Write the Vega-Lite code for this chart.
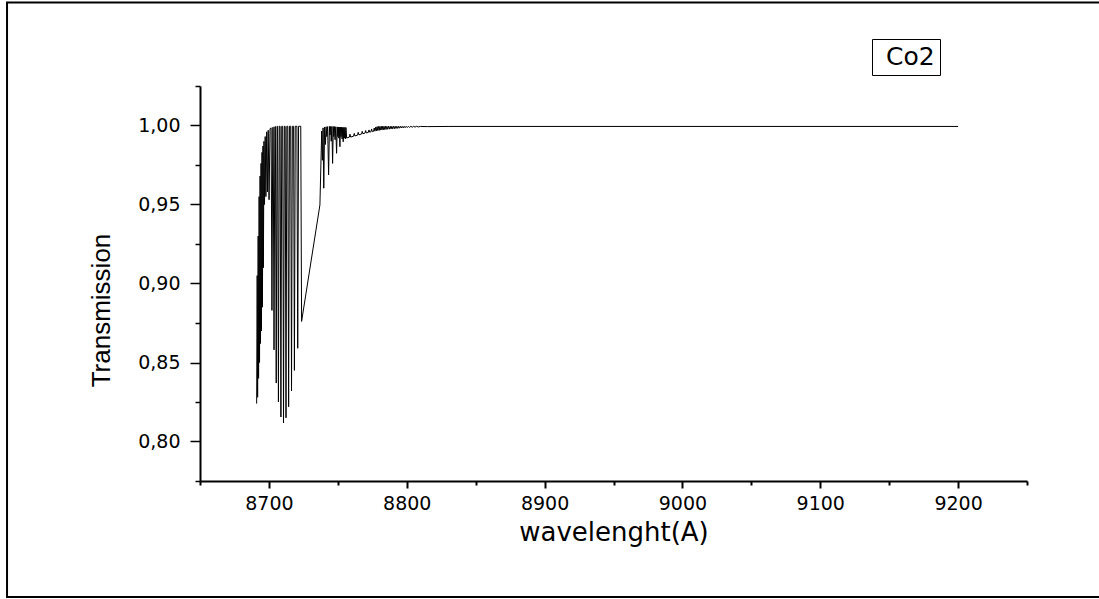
{
  "$schema": "https://vega.github.io/schema/vega-lite/v6.json",
  "width": 827,
  "height": 395,
  "autosize": {"type": "none"},
  "padding": {"left": 200, "top": 86, "right": 72, "bottom": 118},
  "background": "white",
  "config": {"view": {"stroke": null}, "font": "DejaVu Sans"},
  "resolve": {"axis": {"y": "independent"}},
  "layer": [
    {
      "data": {"values": [{"frame": "page"}]},
      "mark": {"type": "rect", "fill": "transparent", "stroke": "black", "strokeWidth": 2, "clip": false},
      "encoding": {
        "x": {"datum": 8510, "type": "quantitative"},
        "x2": {"datum": 9310},
        "y": {
          "datum": 1.0778,
          "type": "quantitative",
          "axis": {
            "orient": "left",
            "title": null,
            "values": [0.775, 0.825, 0.875, 0.925, 0.975, 1.025],
            "labels": false,
            "domain": false,
            "grid": false,
            "tickSize": 5,
            "tickWidth": 1.5,
            "tickColor": "black"
          }
        },
        "y2": {"datum": 0.7016}
      }
    },
    {
      "data": {"values": [
        {"wavelength": 8691.1, "transmission": 0.824},
        {"wavelength": 8691.5, "transmission": 0.905},
        {"wavelength": 8691.8, "transmission": 0.828},
        {"wavelength": 8692.2, "transmission": 0.930},
        {"wavelength": 8692.5, "transmission": 0.840},
        {"wavelength": 8692.9, "transmission": 0.955},
        {"wavelength": 8693.2, "transmission": 0.850},
        {"wavelength": 8693.6, "transmission": 0.968},
        {"wavelength": 8693.9, "transmission": 0.862},
        {"wavelength": 8694.3, "transmission": 0.976},
        {"wavelength": 8694.6, "transmission": 0.870},
        {"wavelength": 8695.0, "transmission": 0.983},
        {"wavelength": 8695.3, "transmission": 0.885},
        {"wavelength": 8695.7, "transmission": 0.987},
        {"wavelength": 8696.0, "transmission": 0.910},
        {"wavelength": 8696.4, "transmission": 0.990},
        {"wavelength": 8696.8, "transmission": 0.950},
        {"wavelength": 8697.3, "transmission": 0.993},
        {"wavelength": 8697.8, "transmission": 0.955},
        {"wavelength": 8698.4, "transmission": 0.996},
        {"wavelength": 8698.9, "transmission": 0.958},
        {"wavelength": 8699.5, "transmission": 0.997},
        {"wavelength": 8700.1, "transmission": 0.953},
        {"wavelength": 8700.8, "transmission": 0.998},
        {"wavelength": 8701.6, "transmission": 0.9985},
        {"wavelength": 8702.2, "transmission": 0.883},
        {"wavelength": 8702.8, "transmission": 0.9988},
        {"wavelength": 8703.1, "transmission": 0.999},
        {"wavelength": 8703.7, "transmission": 0.858},
        {"wavelength": 8704.3, "transmission": 0.9992},
        {"wavelength": 8704.7, "transmission": 0.9994},
        {"wavelength": 8705.3, "transmission": 0.837},
        {"wavelength": 8705.9, "transmission": 0.9995},
        {"wavelength": 8706.3, "transmission": 0.9995},
        {"wavelength": 8706.9, "transmission": 0.825},
        {"wavelength": 8707.5, "transmission": 0.9995},
        {"wavelength": 8708.1, "transmission": 0.9995},
        {"wavelength": 8708.7, "transmission": 0.8155},
        {"wavelength": 8709.3, "transmission": 0.9995},
        {"wavelength": 8710.0, "transmission": 0.9995},
        {"wavelength": 8710.6, "transmission": 0.8117},
        {"wavelength": 8711.2, "transmission": 0.9995},
        {"wavelength": 8711.8, "transmission": 0.9995},
        {"wavelength": 8712.4, "transmission": 0.815},
        {"wavelength": 8713.0, "transmission": 0.9995},
        {"wavelength": 8713.7, "transmission": 0.9995},
        {"wavelength": 8714.3, "transmission": 0.822},
        {"wavelength": 8714.9, "transmission": 0.9995},
        {"wavelength": 8715.8, "transmission": 0.9995},
        {"wavelength": 8716.4, "transmission": 0.832},
        {"wavelength": 8717.0, "transmission": 0.9995},
        {"wavelength": 8717.9, "transmission": 0.9995},
        {"wavelength": 8718.5, "transmission": 0.845},
        {"wavelength": 8719.1, "transmission": 0.9995},
        {"wavelength": 8720.3, "transmission": 0.9995},
        {"wavelength": 8720.9, "transmission": 0.859},
        {"wavelength": 8721.5, "transmission": 0.9995},
        {"wavelength": 8723.1, "transmission": 0.9995},
        {"wavelength": 8723.7, "transmission": 0.876},
        {"wavelength": 8737.0, "transmission": 0.9497},
        {"wavelength": 8738.3, "transmission": 0.9965},
        {"wavelength": 8738.8, "transmission": 0.978},
        {"wavelength": 8739.3, "transmission": 0.9985},
        {"wavelength": 8739.8, "transmission": 0.9603},
        {"wavelength": 8740.4, "transmission": 0.9990},
        {"wavelength": 8741.0, "transmission": 0.988},
        {"wavelength": 8741.5, "transmission": 0.9992},
        {"wavelength": 8742.0, "transmission": 0.993},
        {"wavelength": 8742.6, "transmission": 0.9993},
        {"wavelength": 8743.3, "transmission": 0.9687},
        {"wavelength": 8743.9, "transmission": 0.9994},
        {"wavelength": 8744.3, "transmission": 0.994},
        {"wavelength": 8744.8, "transmission": 0.9994},
        {"wavelength": 8745.2, "transmission": 0.990},
        {"wavelength": 8745.7, "transmission": 0.9994},
        {"wavelength": 8746.2, "transmission": 0.976},
        {"wavelength": 8746.7, "transmission": 0.9993},
        {"wavelength": 8747.1, "transmission": 0.993},
        {"wavelength": 8747.6, "transmission": 0.9993},
        {"wavelength": 8748.0, "transmission": 0.991},
        {"wavelength": 8748.5, "transmission": 0.9992},
        {"wavelength": 8749.1, "transmission": 0.9824},
        {"wavelength": 8749.6, "transmission": 0.9991},
        {"wavelength": 8750.0, "transmission": 0.993},
        {"wavelength": 8750.4, "transmission": 0.999},
        {"wavelength": 8750.7, "transmission": 0.992},
        {"wavelength": 8751.1, "transmission": 0.999},
        {"wavelength": 8751.5, "transmission": 0.9866},
        {"wavelength": 8751.9, "transmission": 0.9989},
        {"wavelength": 8752.3, "transmission": 0.993},
        {"wavelength": 8752.7, "transmission": 0.9989},
        {"wavelength": 8753.1, "transmission": 0.9915},
        {"wavelength": 8753.5, "transmission": 0.9988},
        {"wavelength": 8753.9, "transmission": 0.9897},
        {"wavelength": 8754.3, "transmission": 0.9988},
        {"wavelength": 8754.7, "transmission": 0.992},
        {"wavelength": 8755.1, "transmission": 0.9988},
        {"wavelength": 8755.5, "transmission": 0.9915},
        {"wavelength": 8755.9, "transmission": 0.9987},
        {"wavelength": 8756.4, "transmission": 0.9921},
        {"wavelength": 8758.3, "transmission": 0.9926},
        {"wavelength": 8758.8, "transmission": 0.9945},
        {"wavelength": 8759.3, "transmission": 0.9927},
        {"wavelength": 8761.4, "transmission": 0.9932},
        {"wavelength": 8761.9, "transmission": 0.9950},
        {"wavelength": 8762.4, "transmission": 0.9934},
        {"wavelength": 8764.3, "transmission": 0.9939},
        {"wavelength": 8764.8, "transmission": 0.9957},
        {"wavelength": 8765.3, "transmission": 0.9941},
        {"wavelength": 8767.2, "transmission": 0.9946},
        {"wavelength": 8767.7, "transmission": 0.9963},
        {"wavelength": 8768.2, "transmission": 0.9948},
        {"wavelength": 8769.7, "transmission": 0.9952},
        {"wavelength": 8770.2, "transmission": 0.9968},
        {"wavelength": 8770.7, "transmission": 0.9953},
        {"wavelength": 8772.1, "transmission": 0.9956},
        {"wavelength": 8772.6, "transmission": 0.9972},
        {"wavelength": 8773.1, "transmission": 0.9958},
        {"wavelength": 8774.0, "transmission": 0.9960},
        {"wavelength": 8774.5, "transmission": 0.9978},
        {"wavelength": 8775.0, "transmission": 0.9961},
        {"wavelength": 8775.9, "transmission": 0.9963},
        {"wavelength": 8776.4, "transmission": 0.9984},
        {"wavelength": 8776.9, "transmission": 0.9964},
        {"wavelength": 8777.5, "transmission": 0.9990},
        {"wavelength": 8778.0, "transmission": 0.9966},
        {"wavelength": 8778.5, "transmission": 0.9993},
        {"wavelength": 8779.0, "transmission": 0.9968},
        {"wavelength": 8779.5, "transmission": 0.9994},
        {"wavelength": 8780.0, "transmission": 0.9969},
        {"wavelength": 8780.5, "transmission": 0.9994},
        {"wavelength": 8781.0, "transmission": 0.9971},
        {"wavelength": 8781.5, "transmission": 0.9995},
        {"wavelength": 8782.0, "transmission": 0.9972},
        {"wavelength": 8782.5, "transmission": 0.9995},
        {"wavelength": 8783.0, "transmission": 0.9973},
        {"wavelength": 8783.5, "transmission": 0.9995},
        {"wavelength": 8784.0, "transmission": 0.9974},
        {"wavelength": 8784.5, "transmission": 0.9995},
        {"wavelength": 8785.0, "transmission": 0.9975},
        {"wavelength": 8785.6, "transmission": 0.9995},
        {"wavelength": 8786.2, "transmission": 0.9976},
        {"wavelength": 8786.8, "transmission": 0.9995},
        {"wavelength": 8787.4, "transmission": 0.9977},
        {"wavelength": 8788.0, "transmission": 0.9995},
        {"wavelength": 8788.6, "transmission": 0.9978},
        {"wavelength": 8789.2, "transmission": 0.9995},
        {"wavelength": 8789.8, "transmission": 0.9979},
        {"wavelength": 8790.4, "transmission": 0.9995},
        {"wavelength": 8791.0, "transmission": 0.9980},
        {"wavelength": 8791.6, "transmission": 0.9995},
        {"wavelength": 8792.2, "transmission": 0.9981},
        {"wavelength": 8792.8, "transmission": 0.9995},
        {"wavelength": 8793.4, "transmission": 0.9982},
        {"wavelength": 8794.0, "transmission": 0.9995},
        {"wavelength": 8794.6, "transmission": 0.9983},
        {"wavelength": 8795.3, "transmission": 0.9995},
        {"wavelength": 8796.0, "transmission": 0.9984},
        {"wavelength": 8796.7, "transmission": 0.9995},
        {"wavelength": 8797.4, "transmission": 0.9985},
        {"wavelength": 8798.1, "transmission": 0.9995},
        {"wavelength": 8798.8, "transmission": 0.9986},
        {"wavelength": 8799.6, "transmission": 0.9995},
        {"wavelength": 8800.4, "transmission": 0.9987},
        {"wavelength": 8801.2, "transmission": 0.9995},
        {"wavelength": 8802.0, "transmission": 0.9988},
        {"wavelength": 8803.0, "transmission": 0.9995},
        {"wavelength": 8804.0, "transmission": 0.9989},
        {"wavelength": 8805.0, "transmission": 0.9995},
        {"wavelength": 8806.0, "transmission": 0.9990},
        {"wavelength": 8807.2, "transmission": 0.9995},
        {"wavelength": 8808.4, "transmission": 0.9991},
        {"wavelength": 8810.0, "transmission": 0.9994},
        {"wavelength": 8815.0, "transmission": 0.9993},
        {"wavelength": 8830.0, "transmission": 0.9994},
        {"wavelength": 9200.0, "transmission": 0.9994}
      ]},
      "mark": {"type": "line", "strokeWidth": 1, "interpolate": "linear"},
      "encoding": {
        "x": {
          "field": "wavelength",
          "type": "quantitative",
          "scale": {"domain": [8650, 9250], "nice": false, "zero": false},
          "axis": {
            "title": "wavelenght(A)",
            "values": [8650, 8700, 8750, 8800, 8850, 8900, 8950, 9000, 9050, 9100, 9150, 9200, 9250],
            "format": "d",
            "labelExpr": "datum.value % 100 === 0 ? datum.label : ''",
            "tickSize": {"condition": {"test": "datum.value % 100 === 0", "value": 7}, "value": 4},
            "tickWidth": 2,
            "tickColor": "black",
            "domainColor": "black",
            "domainWidth": 2,
            "grid": false,
            "labelFont": "DejaVu Sans",
            "labelFontSize": 19,
            "labelColor": "black",
            "labelPadding": 6,
            "labelFlush": false,
            "labelOverlap": false,
            "titleFont": "DejaVu Sans",
            "titleFontSize": 26,
            "titleFontWeight": "normal",
            "titleColor": "black",
            "titleX": 413.5,
            "titleY": 59,
            "titleAlign": "center",
            "titleBaseline": "alphabetic"
          }
        },
        "y": {
          "field": "transmission",
          "type": "quantitative",
          "scale": {"domain": [0.775, 1.025], "nice": false, "zero": false},
          "axis": {
            "orient": "left",
            "title": "Transmission",
            "values": [0.8, 0.85, 0.9, 0.95, 1],
            "format": ".2f",
            "labelExpr": "replace(datum.label, '.', ',')",
            "tickSize": 10,
            "tickWidth": 1.5,
            "tickColor": "black",
            "domainColor": "black",
            "domainWidth": 2,
            "grid": false,
            "labelFont": "DejaVu Sans",
            "labelFontSize": 19,
            "labelColor": "black",
            "labelPadding": 10,
            "labelFlush": false,
            "labelOverlap": false,
            "titleFont": "Liberation Sans",
            "titleFontSize": 26,
            "titleFontWeight": "normal",
            "titleColor": "black",
            "titleAngle": -90,
            "titleX": -91,
            "titleY": 224,
            "titleAlign": "center",
            "titleBaseline": "alphabetic"
          }
        },
        "color": {
          "datum": "Co2",
          "type": "nominal",
          "scale": {"range": ["black"]},
          "legend": {
            "orient": "none",
            "legendX": 672,
            "legendY": -47,
            "title": null,
            "strokeColor": "black",
            "fillColor": "white",
            "padding": 5,
            "symbolSize": 0,
            "symbolOpacity": 0,
            "labelOffset": -16,
            "labelFont": "DejaVu Sans",
            "labelFontSize": 25,
            "labelColor": "black"
          }
        }
      }
    }
  ]
}
